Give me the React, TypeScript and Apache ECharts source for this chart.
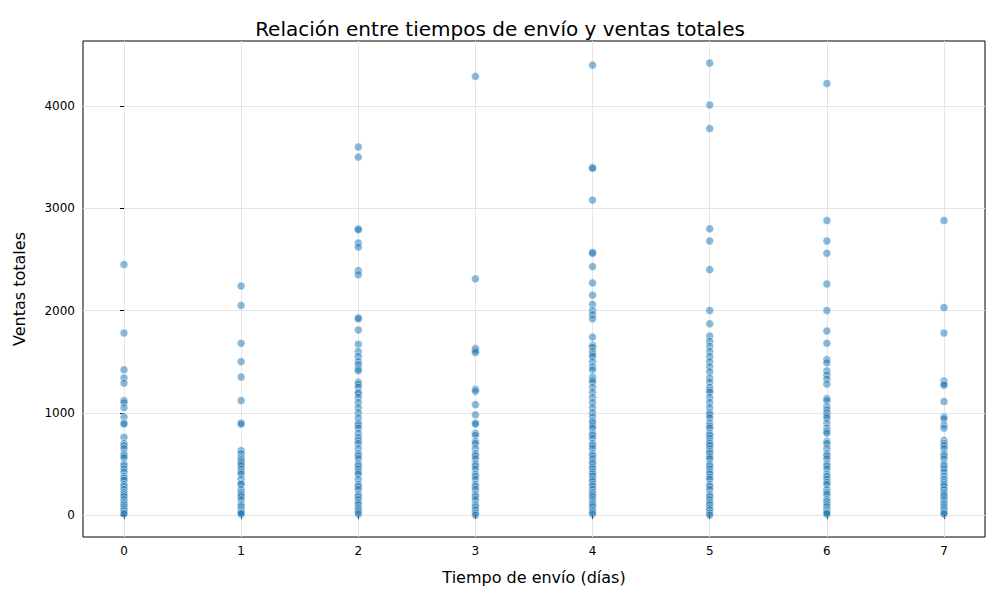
import React, { useEffect, useRef } from 'react'
import * as echarts from 'echarts'

const days = [0, 1, 2, 3, 4, 5, 6, 7]
const yTicks = [0, 1000, 2000, 3000, 4000]

const day0 = [2450, 1780, 1420, 1340, 1290, 1120, 1100, 1050, 960, 900, 890, 760, 700, 680, 650, 600, 580, 560, 500, 480, 450, 420, 380, 360, 340, 300, 280, 250, 220, 200, 180, 150, 120, 100, 80, 60, 40, 20, 10]
const day1 = [2240, 2050, 1680, 1500, 1350, 1120, 900, 890, 630, 600, 560, 540, 520, 500, 480, 450, 420, 400, 350, 310, 300, 250, 220, 200, 180, 150, 100, 80, 50, 30, 20, 10]
const day2 = [3600, 3500, 2800, 2790, 2660, 2620, 2390, 2350, 1930, 1920, 1810, 1670, 1600, 1550, 1500, 1470, 1430, 1410, 1300, 1280, 1250, 1200, 1190, 1150, 1100, 1050, 1000, 950, 900, 880, 850, 800, 760, 730, 700, 650, 600, 580, 550, 500, 480, 450, 420, 400, 350, 300, 280, 250, 200, 180, 150, 120, 100, 70, 50, 30, 10]
const day3 = [4290, 2310, 1630, 1610, 1590, 1230, 1210, 1080, 980, 900, 890, 800, 780, 720, 700, 650, 600, 580, 550, 500, 480, 450, 400, 380, 350, 300, 280, 250, 200, 180, 150, 100, 80, 50, 20, 0]
const day4 = [4400, 3400, 3390, 3080, 2570, 2560, 2430, 2270, 2150, 2060, 2000, 1960, 1920, 1740, 1660, 1640, 1600, 1570, 1550, 1500, 1450, 1420, 1350, 1320, 1300, 1250, 1200, 1150, 1100, 1050, 1000, 960, 920, 900, 870, 850, 800, 780, 750, 700, 680, 650, 600, 580, 550, 520, 500, 470, 450, 420, 400, 380, 350, 330, 300, 280, 250, 220, 200, 180, 150, 120, 100, 80, 50, 30, 10]
const day5 = [4420, 4010, 3780, 2800, 2680, 2400, 2000, 1870, 1750, 1700, 1650, 1600, 1550, 1500, 1450, 1400, 1340, 1300, 1250, 1220, 1200, 1150, 1100, 1050, 1000, 980, 950, 900, 870, 850, 800, 780, 750, 720, 700, 680, 650, 620, 600, 570, 550, 500, 480, 450, 420, 400, 370, 350, 300, 280, 250, 200, 180, 150, 120, 100, 70, 50, 20, 0]
const day6 = [4220, 2880, 2680, 2560, 2260, 2000, 1800, 1680, 1520, 1490, 1410, 1370, 1330, 1280, 1140, 1120, 1060, 1030, 1000, 970, 950, 900, 850, 820, 800, 720, 700, 650, 600, 580, 550, 500, 480, 450, 400, 380, 350, 320, 300, 250, 220, 200, 150, 130, 100, 80, 50, 30, 20, 10]
const day7 = [2880, 2030, 1780, 1310, 1280, 1270, 1110, 960, 940, 880, 850, 730, 700, 680, 650, 600, 580, 550, 500, 480, 450, 420, 380, 350, 320, 300, 280, 250, 220, 200, 180, 150, 120, 100, 80, 60, 40, 20, 10]

const salesByDay = [day0, day1, day2, day3, day4, day5, day6, day7]

export default function App() {
  const chartRef = useRef<HTMLDivElement>(null)

  useEffect(() => {
    if (!chartRef.current) return
    document.body.style.margin = '0'
    const chart = echarts.init(chartRef.current, undefined, { renderer: 'svg' })

    const points: number[][] = []
    salesByDay.forEach((vals, i) => vals.forEach(v => points.push([days[i], v])))

    const font = 'DejaVu Sans'
    const option: echarts.EChartsOption = {
      animation: false,
      textStyle: { fontFamily: font },
      title: {
        text: 'Relación entre tiempos de envío y ventas totales',
        left: 'center',
        top: 14,
        textStyle: { fontSize: 20, fontWeight: 'normal', color: '#000', fontFamily: font }
      },
      grid: {
        left: 83, right: 15, top: 41, bottom: 63,
        show: true, borderColor: '#000', borderWidth: 1, backgroundColor: 'transparent'
      },
      xAxis: {
        type: 'value',
        min: -0.35,
        max: 7.35,
        name: 'Tiempo de envío (días)',
        nameLocation: 'middle',
        nameGap: 32,
        nameTextStyle: { fontSize: 16, color: '#000' },
        axisLine: { show: false },
        axisTick: { show: true, length: 4, lineStyle: { color: '#000' }, customValues: days },
        axisLabel: { color: '#000', fontSize: 12, customValues: days, margin: 8, formatter: (v: number) => String(v) },
        splitLine: { show: true, lineStyle: { color: '#e5e5e5' } }
      },
      yAxis: {
        type: 'value',
        min: -215,
        max: 4636,
        name: 'Ventas totales',
        nameLocation: 'middle',
        nameGap: 56,
        nameTextStyle: { fontSize: 16, color: '#000' },
        axisLine: { show: false },
        axisTick: { show: true, length: 4, lineStyle: { color: '#000' }, customValues: yTicks },
        axisLabel: { color: '#000', fontSize: 12, customValues: yTicks, margin: 8, formatter: (v: number) => String(v) },
        splitLine: { show: true, lineStyle: { color: '#e5e5e5' } }
      },
      series: [
        {
          type: 'scatter',
          data: points,
          symbolSize: 8,
          itemStyle: {
            color: 'rgba(31,119,180,0.65)',
            borderColor: '#fff',
            borderWidth: 0.6
          }
        }
      ]
    }

    chart.setOption(option)
    return () => chart.dispose()
  }, [])

  return <div ref={chartRef} style={{ width: 1000, height: 600 }} />
}
